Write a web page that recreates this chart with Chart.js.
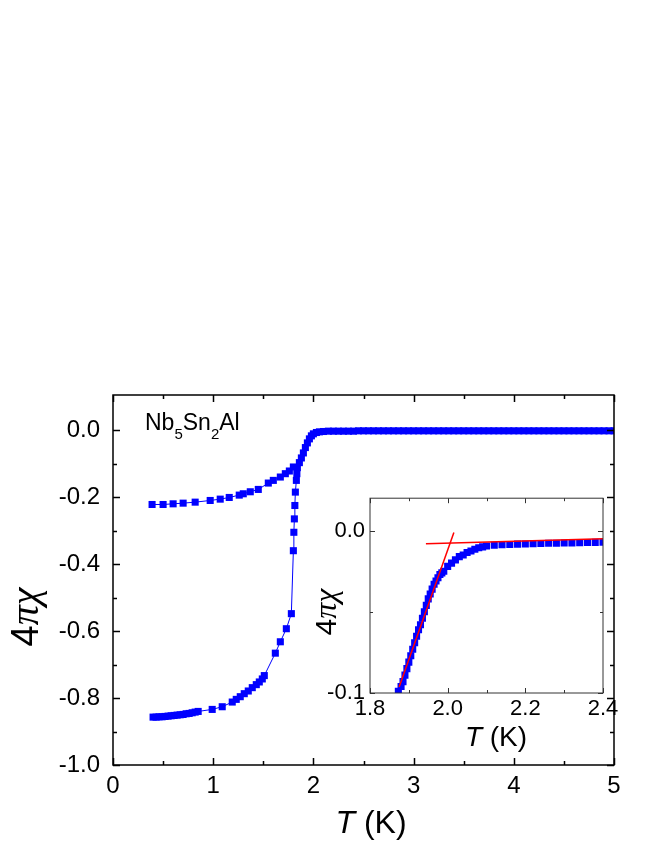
<!DOCTYPE html>
<html>
<head>
<meta charset="utf-8">
<script src="https://cdn.jsdelivr.net/npm/chart.js@4.4.1/dist/chart.umd.min.js"></script>
<style>
  body { margin: 0; background: #fff; }
  #wrap { position: relative; width: 654px; height: 846px; }
  #mainChart { position: absolute; left: 0; top: 0; }
  #insetChart { position: absolute; left: 300px; top: 480px; }
</style>
</head>
<body>
<div id="wrap">
  <canvas id="mainChart" width="654" height="846"></canvas>
  <canvas id="insetChart" width="330" height="280"></canvas>
</div>
<script>
// lower branch: low T, steep drop, transition and normal state
const zfcT = [0.40, 0.43, 0.46, 0.49, 0.52, 0.55, 0.58, 0.61, 0.64, 0.67, 0.70, 0.73, 0.76, 0.79, 0.82, 0.85,
  0.99, 1.09, 1.19, 1.23, 1.27, 1.31, 1.35, 1.39, 1.43, 1.46, 1.49, 1.51,
  1.62, 1.67, 1.73, 1.78,
  1.80, 1.805, 1.81, 1.815, 1.82, 1.83, 1.835,
  1.84, 1.86, 1.88, 1.90, 1.92, 1.94, 1.96, 1.98, 2.00, 2.03, 2.06, 2.10, 2.15,
  2.20, 2.25, 2.30, 2.35, 2.40, 2.45, 2.50, 2.55, 2.60, 2.65, 2.70, 2.75, 2.80, 2.85, 2.90, 2.95,
  3.00, 3.05, 3.10, 3.15, 3.20, 3.25, 3.30, 3.35, 3.40, 3.45, 3.50, 3.55, 3.60, 3.65, 3.70, 3.75,
  3.80, 3.85, 3.90, 3.95, 4.00, 4.05, 4.10, 4.15, 4.20, 4.25, 4.30, 4.35, 4.40, 4.45, 4.50, 4.55,
  4.60, 4.65, 4.70, 4.75, 4.80, 4.85, 4.90, 4.95, 5.00];
const zfcChi = [-0.857, -0.857, -0.856, -0.856, -0.855, -0.854, -0.853, -0.852, -0.851, -0.850, -0.849, -0.847, -0.846, -0.844, -0.842, -0.840,
  -0.834, -0.826, -0.812, -0.804, -0.796, -0.787, -0.779, -0.769, -0.760, -0.752, -0.743, -0.733,
  -0.666, -0.632, -0.593, -0.548,
  -0.360, -0.305, -0.265, -0.225, -0.185, -0.150, -0.130,
  -0.112, -0.097, -0.083, -0.068, -0.052, -0.038, -0.026, -0.017, -0.011, -0.007, -0.005, -0.004, -0.003,
  -0.003, -0.003, -0.003, -0.003, -0.003, -0.002, -0.002, -0.002, -0.002, -0.002, -0.002, -0.002, -0.002, -0.002, -0.002, -0.002,
  -0.002, -0.002, -0.002, -0.002, -0.002, -0.002, -0.002, -0.002, -0.002, -0.002, -0.002, -0.002, -0.002, -0.002, -0.002, -0.002,
  -0.002, -0.002, -0.002, -0.002, -0.002, -0.002, -0.002, -0.002, -0.002, -0.002, -0.002, -0.002, -0.002, -0.002, -0.002, -0.002,
  -0.002, -0.002, -0.002, -0.002, -0.002, -0.002, -0.002, -0.002, -0.002];

// upper branch
const fcT = [0.39, 0.50, 0.60, 0.70, 0.82, 0.97, 1.07, 1.16, 1.26, 1.30, 1.37, 1.45, 1.55, 1.60, 1.67, 1.72, 1.76, 1.80];
const fcChi = [-0.222, -0.222, -0.220, -0.218, -0.215, -0.210, -0.206, -0.201, -0.194, -0.190, -0.184, -0.177, -0.158, -0.150, -0.140, -0.130, -0.122, -0.110];

// inset: close-up of the onset
const insetT = [1.873, 1.880, 1.885, 1.890, 1.895, 1.900, 1.905, 1.910, 1.915, 1.920, 1.925, 1.930, 1.935, 1.940, 1.945,
  1.950, 1.955, 1.960, 1.965, 1.970, 1.975, 1.980, 1.985, 1.990, 2.000, 2.010, 2.020, 2.030, 2.040, 2.050,
  2.060, 2.070, 2.080, 2.090, 2.100, 2.12, 2.14, 2.16, 2.18, 2.20, 2.22, 2.24, 2.26, 2.28, 2.30, 2.32, 2.34, 2.36, 2.38, 2.40];
const insetChi = [-0.099, -0.096, -0.093, -0.089, -0.085, -0.081, -0.077, -0.073, -0.069, -0.065, -0.061, -0.058, -0.054, -0.050, -0.046,
  -0.042, -0.039, -0.036, -0.033, -0.031, -0.029, -0.027, -0.026, -0.025, -0.022, -0.020, -0.018, -0.016, -0.015, -0.0135,
  -0.0125, -0.0115, -0.0105, -0.0100, -0.0095, -0.0090, -0.0087, -0.0085, -0.0083, -0.0082, -0.0080, -0.0079, -0.0078, -0.0077, -0.0076, -0.0075, -0.0074, -0.0073, -0.0072, -0.0071];

// linear fits used to pick Tc
const fitLowT = [1.875, 2.016];
const fitLowChi = [-0.0963, -0.0012];
const fitHighT = [1.944, 2.40];
const fitHighChi = [-0.0080, -0.0050];

// ticks
const xTicks = [0, 1, 2, 3, 4, 5];
const xTickLabels = ['0', '1', '2', '3', '4', '5'];
const xMinor = [0.5, 1.5, 2.5, 3.5, 4.5];
const yTicks = [0, -0.2, -0.4, -0.6, -0.8, -1.0];
const yTickLabels = ['0.0', '-0.2', '-0.4', '-0.6', '-0.8', '-1.0'];
const yMinor = [-0.1, -0.3, -0.5, -0.7, -0.9];
const insetXTicks = [1.8, 2.0, 2.2, 2.4];
const insetXTickLabels = ['1.8', '2.0', '2.2', '2.4'];
const insetXMinor = [1.9, 2.1, 2.3];
const insetYTicks = [0, -0.1];
const insetYTickLabels = ['0.0', '-0.1'];
const insetYMinor = [-0.05];

const SANS = '"Liberation Sans", Arial, sans-serif';
const SERIF = '"Liberation Serif", "Times New Roman", serif';

const pts = (xs, ys) => xs.map((v, i) => ({ x: v, y: ys[i] }));

// frame + inward ticks on all four sides
const frameTicks = {
  id: 'frameTicks',
  afterDatasetsDraw(chart, args, o) {
    const { ctx, chartArea: a, scales: { x, y } } = chart;
    ctx.save();
    ctx.strokeStyle = o.color;
    ctx.lineWidth = o.width;
    ctx.beginPath();
    const vx = (vals, len) => vals.forEach(v => {
      const p = Math.round(x.getPixelForValue(v)) + 0.5;
      ctx.moveTo(p, a.bottom); ctx.lineTo(p, a.bottom - len);
      ctx.moveTo(p, a.top); ctx.lineTo(p, a.top + len);
    });
    const vy = (vals, len) => vals.forEach(v => {
      const p = Math.round(y.getPixelForValue(v)) + 0.5;
      ctx.moveTo(a.left, p); ctx.lineTo(a.left + len, p);
      ctx.moveTo(a.right, p); ctx.lineTo(a.right - len, p);
    });
    vx(o.xMajor, o.major); vx(o.xMinor, o.minor);
    vy(o.yMajor, o.major); vy(o.yMinor, o.minor);
    ctx.stroke();
    ctx.strokeRect(a.left, a.top, a.right - a.left, a.bottom - a.top);
    ctx.restore();
  }
};

// text made of several runs (italic T, subscripts, greek)
const richText = {
  id: 'richText',
  afterDraw(chart, args, o) {
    const ctx = chart.ctx;
    o.items.forEach(it => {
      ctx.save();
      ctx.fillStyle = '#000';
      ctx.textBaseline = 'alphabetic';
      ctx.translate(it.x, it.y);
      if (it.rotate) ctx.rotate(it.rotate);
      let w = 0;
      it.parts.forEach(p => { ctx.font = p.font; w += ctx.measureText(p.text).width; });
      let cx = it.align === 'center' ? -w / 2 : 0;
      it.parts.forEach(p => {
        ctx.font = p.font;
        ctx.fillText(p.text, cx, p.dy || 0);
        cx += ctx.measureText(p.text).width;
      });
      ctx.restore();
    });
  }
};

function axis(min, max, ticks, labels, fontSize, pad, fit) {
  return {
    type: 'linear', min: min, max: max,
    grid: { display: false, drawTicks: false },
    border: { display: false },
    afterBuildTicks: s => { s.ticks = ticks.map(v => ({ value: v })); },
    afterFit: fit,
    ticks: {
      color: '#000', padding: pad,
      font: { family: SANS, size: fontSize },
      callback: (v) => { const i = ticks.findIndex(t => Math.abs(t - v) < 1e-9); return i >= 0 ? labels[i] : ''; }
    }
  };
}

new Chart(document.getElementById('mainChart'), {
  type: 'scatter',
  data: {
    datasets: [{
      data: pts(zfcT, zfcChi),
      showLine: true, borderColor: '#0000ff', borderWidth: 1,
      pointStyle: 'rect', pointRadius: 5, pointBackgroundColor: '#0000ff', pointBorderWidth: 0
    }, {
      data: pts(fcT, fcChi),
      showLine: true, borderColor: '#0000ff', borderWidth: 1,
      pointStyle: 'rect', pointRadius: 5, pointBackgroundColor: '#0000ff', pointBorderWidth: 0
    }]
  },
  options: {
    responsive: false, animation: false,
    layout: { padding: { left: 0, top: 395, right: 40, bottom: 0 } },
    plugins: {
      legend: { display: false }, tooltip: { enabled: false },
      frameTicks: { color: '#000', width: 1.5, major: 7, minor: 4, xMajor: xTicks, xMinor: xMinor, yMajor: yTicks, yMinor: yMinor },
      richText: {
        items: [
          { x: 371, y: 833, align: 'center', parts: [
            { text: 'T', font: 'italic 32px ' + SANS }, { text: ' (K)', font: '32px ' + SANS }] },
          { x: 38, y: 617, rotate: -Math.PI / 2, align: 'center', parts: [
            { text: '4', font: '38px ' + SANS }, { text: 'πχ', font: 'italic 40px ' + SERIF }] },
          { x: 145, y: 430, parts: [
            { text: 'Nb', font: '23px ' + SANS }, { text: '5', font: '15px ' + SANS, dy: 9 },
            { text: 'Sn', font: '23px ' + SANS }, { text: '2', font: '15px ' + SANS, dy: 9 },
            { text: 'Al', font: '23px ' + SANS }] }
        ]
      }
    },
    scales: {
      x: axis(0, 5, xTicks, xTickLabels, 24, 7, s => { s.height = 81; }),
      y: axis(-1.0, 0.105, yTicks, yTickLabels, 24, 13, s => { s.width = 113; })
    }
  },
  plugins: [frameTicks, richText]
});

new Chart(document.getElementById('insetChart'), {
  type: 'scatter',
  data: {
    datasets: [{
      data: pts(fitLowT, fitLowChi),
      showLine: true, borderColor: '#ff0000', borderWidth: 1.5, pointRadius: 0
    }, {
      data: pts(fitHighT, fitHighChi),
      showLine: true, borderColor: '#ff0000', borderWidth: 1.5, pointRadius: 0
    }, {
      data: pts(insetT, insetChi),
      showLine: false, clip: 0,
      pointStyle: 'rect', pointRadius: 5, pointBackgroundColor: '#0000ff', pointBorderWidth: 0
    }]
  },
  options: {
    responsive: false, animation: false,
    layout: { padding: { left: 0, top: 18, right: 27, bottom: 0 } },
    plugins: {
      legend: { display: false }, tooltip: { enabled: false },
      frameTicks: { color: '#333', width: 1, major: 5, minor: 3, xMajor: insetXTicks, xMinor: insetXMinor, yMajor: insetYTicks, yMinor: insetYMinor },
      richText: {
        items: [
          { x: 196, y: 266, align: 'center', parts: [
            { text: 'T', font: 'italic 28px ' + SANS }, { text: ' (K)', font: '28px ' + SANS }] },
          { x: 36, y: 132, rotate: -Math.PI / 2, align: 'center', parts: [
            { text: '4', font: '30px ' + SANS }, { text: 'πχ', font: 'italic 32px ' + SERIF }] }
        ]
      }
    },
    scales: {
      x: axis(1.8, 2.4, insetXTicks, insetXTickLabels, 22, 3, s => { s.height = 67; }),
      y: axis(-0.1, 0.02, insetYTicks, insetYTickLabels, 22, 5, s => { s.width = 70; })
    }
  },
  plugins: [frameTicks, richText]
});
</script>
</body>
</html>
